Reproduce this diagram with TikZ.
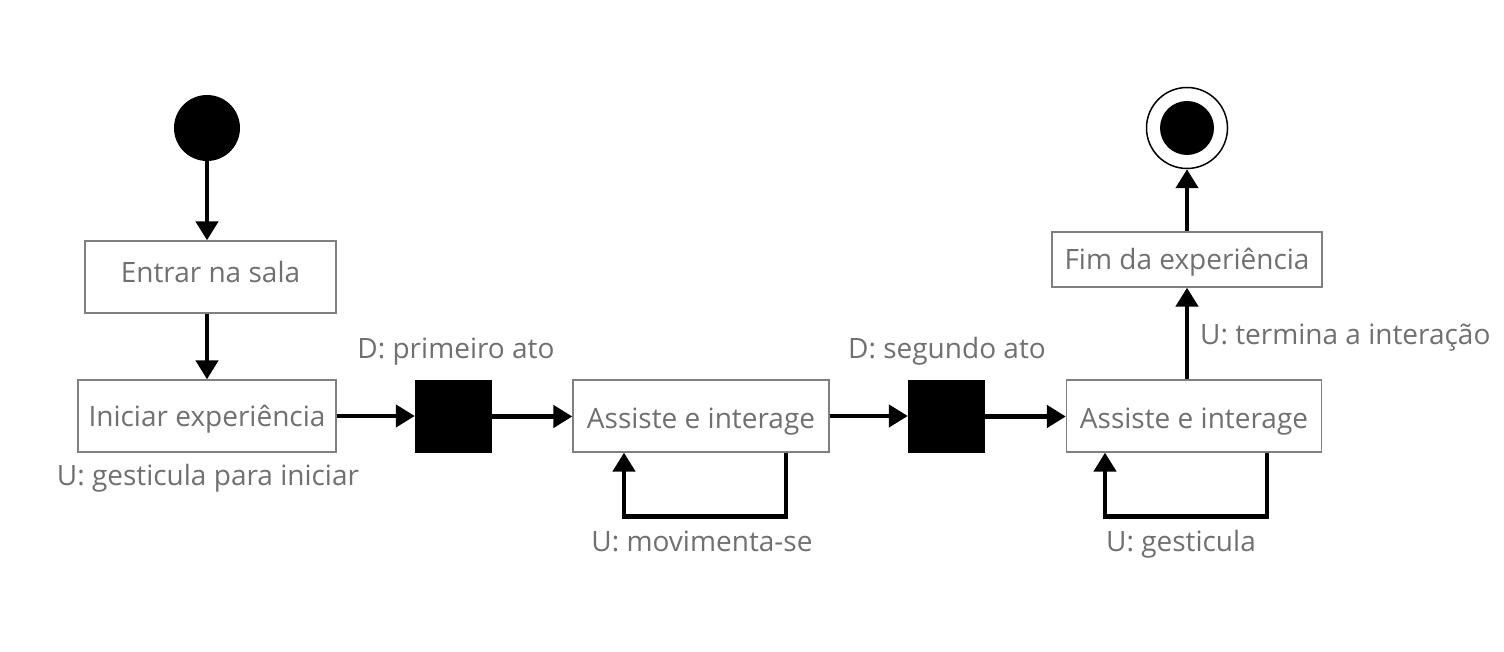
\documentclass[tikz,border=0pt]{standalone}
\usepackage{fontspec}
\setmainfont{Open Sans}
\usetikzlibrary{arrows.meta,calc}
\definecolor{txt}{RGB}{112,112,112}
\definecolor{brd}{RGB}{128,128,128}
\begin{document}
\begin{tikzpicture}[x=1pt,y=1pt,
  box/.style={draw=brd, line width=1.3pt, fill=white, inner sep=0pt, text=txt,
    font=\fontsize{28}{33}\selectfont, text height=27pt, text depth=5pt, minimum height=72pt},
  lbl/.style={text=txt, font=\fontsize{28}{33}\selectfont, anchor=base, inner sep=0pt},
  arr/.style={line width=4.5pt, -{Triangle[length=19pt,width=22pt]}},
  barnode/.style={fill=black, inner sep=0pt, minimum width=77pt, minimum height=73pt}]
\useasboundingbox (0,0) rectangle (1504,652);
\fill[white] (0,0) rectangle (1504,652);
% nodes
\node[circle, fill=black, minimum size=66pt, inner sep=0pt] (start) at (207,524) {};
\node[box, minimum width=251pt, text depth=15pt] (entrar) at (210.5,375) {Entrar na sala};
\node[box, minimum width=258pt, text depth=5pt] (iniciar) at (207,236) {Iniciar experiência};
\node[barnode] (sq1) at (453.5,235.5) {};
\node[box, minimum width=256pt, text depth=1pt] (a1) at (701,236) {Assiste e interage};
\node[barnode] (sq2) at (946.5,235.5) {};
\node[box, minimum width=255pt, text depth=1pt] (a2) at (1194,236) {Assiste e interage};
\node[box, minimum width=270pt, minimum height=55pt, text depth=6pt] (fim) at (1187,392.5) {Fim da experiência};
\node[circle, draw=black, line width=1.5pt, minimum size=81pt, inner sep=0pt] (end) at (1187,524) {};
\node[circle, fill=black, minimum size=54pt, inner sep=0pt] (endin) at (end) {};
% connectors
\draw[arr] (start.south) -- (start.south |- entrar.north);
\draw[arr] (entrar.south -| start) -- (iniciar.north -| start);
\draw[arr] (iniciar.east) -- (iniciar.east -| sq1.west);
\draw[arr] (sq1.east) -- (sq1.east -| a1.west);
\draw[arr] (a1.east) -- (a1.east -| sq2.west);
\draw[arr] (sq2.east) -- (sq2.east -| a2.west);
\draw[arr] (a2.north -| fim) -- (fim.south);
\draw[arr] (fim.north) -- (end.south);
\draw[arr] ([xshift=85pt]a1.south) -- ++(0,-64) -| ([xshift=-77pt]a1.south);
\draw[arr] ([xshift=73pt]a2.south) -- ++(0,-64) -| ([xshift=-89pt]a2.south);
% labels
\node[lbl] (l1) at (208,166) {U: gesticula para iniciar};
\node[lbl] (l2) at (456,293) {D: primeiro ato};
\node[lbl] (l3) at (947,293) {D: segundo ato};
\node[lbl] (l4) at (702,100) {U: movimenta-se};
\node[lbl] (l5) at (1181,100) {U: gesticula};
\node[lbl, anchor=base west] (l6) at (1200,307) {U: termina a interação};
\end{tikzpicture}
\end{document}
